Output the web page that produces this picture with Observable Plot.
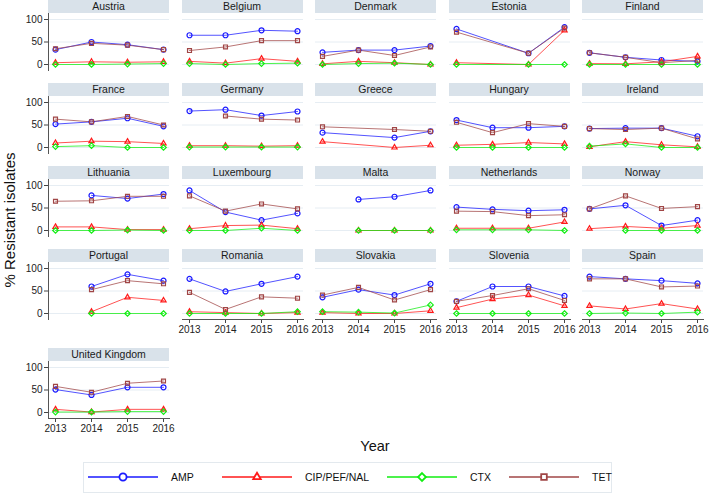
<!DOCTYPE html>
<html><head><meta charset="utf-8">
<script src="https://cdn.jsdelivr.net/npm/d3@7"></script>
<script src="https://cdn.jsdelivr.net/npm/@observablehq/plot@0.6"></script>
<style>
body{margin:0;background:#fff;font-family:"Liberation Sans",Arial,sans-serif;}
#root{position:relative;width:709px;height:494px;overflow:hidden;background:#fff;}
.hdr{position:absolute;height:13px;background:#d9e2ea;font-size:10.5px;line-height:13px;text-align:center;color:#1a1a1a;white-space:nowrap;}
.pl{position:absolute;}
</style></head><body><div id="root"></div>
<script>
// ---- data ----
const countries = ["Austria","Belgium","Denmark","Estonia","Finland","France","Germany","Greece","Hungary","Ireland","Lithuania","Luxembourg","Malta","Netherlands","Norway","Portugal","Romania","Slovakia","Slovenia","Spain","United Kingdom"];
const years = [2013, 2014, 2015, 2016];
const seriesNames = ["AMP", "CIP/PEF/NAL", "CTX", "TET"];
const seriesColors = ["#1a1aff", "#ff1a1a", "#11ee11", "#a04646"];
const seriesSymbols = ["circle", "triangle2", "diamond2", "square2"];
const yTicks = [0, 50, 100];

const amp = [
  [33,50,44,33],[65,65,76,74],[27,32,32,41],[79,null,25,83],[26,16,10,7],
  [52,57,65,47],[81,84,71,80],[33,null,22,36],[61,44,44,47],[42,43,43,25],
  [null,78,71,81],[89,41,23,38],[null,69,75,89],[52,47,44,46],[48,56,11,23],
  [null,60,87,73],[77,49,66,82],[36,53,41,66],[27,60,60,39],[82,77,73,67],
  [51,39,56,56]
];
const cip = [
  [4,6,5,6],[7,3,13,7],[1.5,7,4,0],[4,null,0,76],[2,1.5,6,18],
  [10,14,13,9],[4,4,3,4],[13,null,0,5],[5,7,11,8],[1.5,13,6,1.5],
  [8,8,2,2],[4,11,12,4],[null,0,0,0],[5,5,5,19],[4,9,5,11],
  [null,4,36,29],[4,2,0,2],[2,0,0,6],[13,32,41,17],[17,10,22,10],
  [7,1,7,7]
];
const ctx = [
  [0,0,1,2],[2,0,2,3],[0,2,3,0],[0,null,0,0],[0,0,0,0],
  [2,4,0,0],[1,1,1,1],[null,null,null,null],[0,0,0,0],[3,8,0,0],
  [0,0,1,0],[0,0,5,0],[null,0,0,0],[1.5,1.5,1.5,0],[null,0,0,0],
  [null,0,0,0],[0,0,0,4],[4,3,1,19],[0,0,0,0],[0,1,0,3],
  [1,1,2,2]
];
const tet = [
  [35,47,43,33],[31,39,53,53],[18,32,20,39],[72,null,25,81],[26,16,4,9],
  [63,57,69,50],[null,70,63,61],[46,null,40,36],[56,33,53,47],[42,40,43,19],
  [65,66,76,76],[77,43,59,48],[null,null,null,null],[43,42,33,35],[48,77,49,53],
  [null,53,73,66],[47,9,37,34],[41,58,30,53],[27,40,55,29],[77,77,59,61],
  [58,45,65,70]
];
const seriesValues = [amp, cip, ctx, tet];

// ---- layout ----
const root = document.getElementById("root");
const colLeft = i => 48 + 133.5 * i;
const rowTop = [0, 83, 166, 249, 348];
const panelW = 121, headerH = 13, plotH = 57;
const font = "Liberation Sans, Arial, sans-serif";

countries.forEach((country, k) => {
  const col = k % 5, row = Math.floor(k / 5);
  const isLeft = col === 0;
  const hasX = k + 5 >= countries.length;
  const rows = [];
  seriesNames.forEach((s, si) => {
    seriesValues[si][k].forEach((v, yi) => {
      if (v != null) rows.push({series: s, year: years[yi], value: v});
    });
  });
  const left = colLeft(col), top = rowTop[row];
  const hdr = document.createElement("div");
  hdr.className = "hdr";
  hdr.style.left = left + "px";
  hdr.style.top = top + "px";
  hdr.style.width = panelW + "px";
  hdr.textContent = country;
  root.appendChild(hdr);

  const mL = isLeft ? 30 : 6, mR = 10, mB = hasX ? 22 : 0;
  const marks = [
    Plot.gridY(yTicks, {stroke: "#e6edf3", strokeOpacity: 1})
  ];
  if (isLeft) {
    marks.push(Plot.axisY(yTicks, {tickSize: 4, tickPadding: 2, fontSize: 10, stroke: "#444", fill: "#222", label: null}));
    marks.push(Plot.frame({anchor: "left", stroke: "#555"}));
  }
  if (hasX) {
    marks.push(Plot.axisX(years, {tickSize: 4, tickPadding: 2, fontSize: 10, tickFormat: "d", stroke: "#444", fill: "#222", label: null}));
    marks.push(Plot.frame({anchor: "bottom", stroke: "#555"}));
  }
  marks.push(Plot.line(rows, {x: "year", y: "value", z: "series", stroke: "series", strokeWidth: 1, strokeOpacity: 0.75}));
  marks.push(Plot.dot(rows, {x: "year", y: "value", stroke: "series", symbol: "series", fill: "none", r: 2.5, strokeWidth: 1.2}));

  const chart = Plot.plot({
    width: panelW + mL + mR,
    height: plotH + mB,
    marginLeft: mL, marginRight: mR, marginTop: 0, marginBottom: mB,
    style: {background: "transparent", overflow: "visible", fontFamily: font, fontSize: "10px"},
    x: {domain: [2013, 2016], insetLeft: 7, insetRight: 6, axis: null},
    y: {domain: [0, 100], insetTop: 6, insetBottom: 6, axis: null},
    color: {domain: seriesNames, range: seriesColors},
    symbol: {domain: seriesNames, range: seriesSymbols},
    marks
  });
  chart.classList.add("pl");
  chart.style.left = (left - mL) + "px";
  chart.style.top = (top + headerH) + "px";
  root.appendChild(chart);
});

// ---- titles & legend ----
const svg = d3.select(root).append("svg")
  .attr("width", 709).attr("height", 494)
  .style("position", "absolute").style("left", 0).style("top", 0)
  .style("pointer-events", "none").style("font-family", font);

svg.append("text").attr("x", 375).attr("y", 451).attr("text-anchor", "middle")
  .attr("font-size", 14.5).attr("fill", "#111").text("Year");
svg.append("text").attr("transform", "translate(15,220) rotate(-90)").attr("text-anchor", "middle")
  .attr("font-size", 15).attr("fill", "#111").text("% Resistant isolates");

svg.append("rect").attr("x", 83.5).attr("y", 462.5).attr("width", 528).attr("height", 30)
  .attr("fill", "#fff").attr("stroke", "#e3e9ee");

const legendX = [88, 222, 387, 509];
const d3Symbols = [d3.symbolCircle, d3.symbolTriangle2, d3.symbolDiamond2, d3.symbolSquare2];
seriesNames.forEach((s, i) => {
  const x0 = legendX[i], ly = 477;
  const g = svg.append("g");
  g.append("line").attr("x1", x0).attr("x2", x0 + 70).attr("y1", ly).attr("y2", ly)
    .attr("stroke", seriesColors[i]).attr("stroke-width", 1.5);
  g.append("path").attr("d", d3.symbol(d3Symbols[i], 40)())
    .attr("transform", `translate(${x0 + 35},${ly})`)
    .attr("fill", "#fff").attr("stroke", seriesColors[i]).attr("stroke-width", 1.8);
  g.append("text").attr("x", x0 + 83).attr("y", ly + 4).attr("font-size", 10.5)
    .attr("fill", "#111").text(s);
});
</script></body></html>
